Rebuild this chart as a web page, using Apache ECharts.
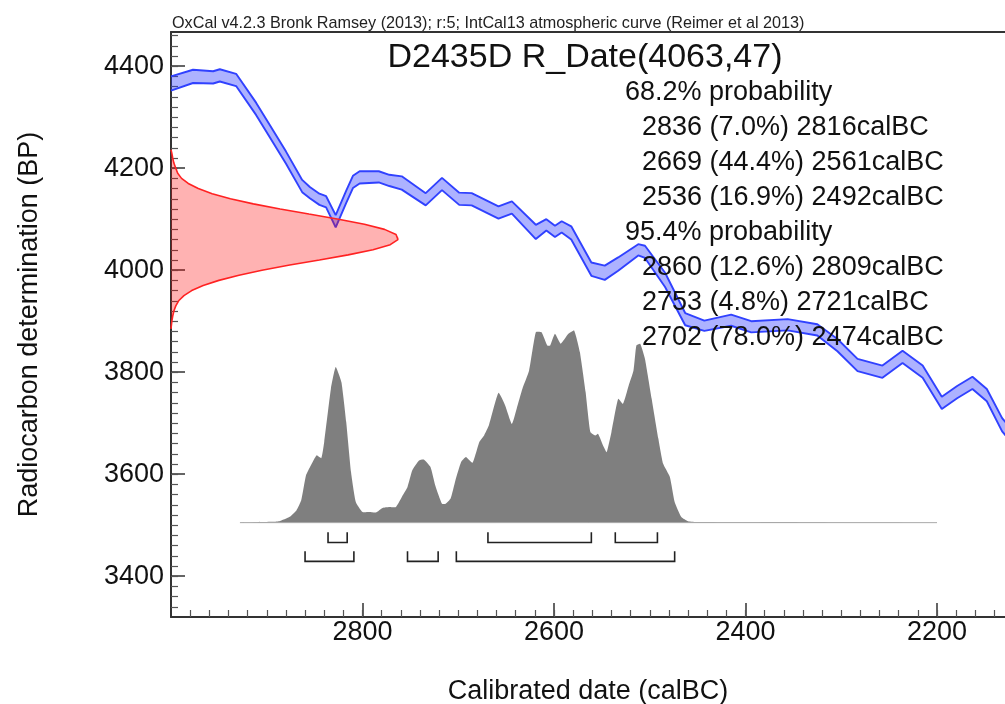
<!DOCTYPE html>
<html><head><meta charset="utf-8">
<script src="https://cdn.jsdelivr.net/npm/echarts@6/dist/echarts.min.js"></script>
<style>html,body{margin:0;padding:0;background:#fff}#c{width:1005px;height:704px}</style>
</head><body><div id="c"></div><script>
// ---------- data ----------
const headerText = 'OxCal v4.2.3 Bronk Ramsey (2013); r:5; IntCal13 atmospheric curve (Reimer et al 2013)';
const titleText = 'D2435D R_Date(4063,47)';
const xAxisTitle = 'Calibrated date (calBC)';
const yAxisTitle = 'Radiocarbon determination (BP)';
const xTickLabels = [2200, 2400, 2600, 2800];
const yTickLabels = [3400, 3600, 3800, 4000, 4200, 4400];

// IntCal13 calibration curve (cal BC, BP, 1 sigma)
const calYears = [3000,2977,2956,2949,2932,2911,2897,2880,2863,2855,2845,2838,2828,2817,2810,2803,2783,2772,2759,2734,2717,2699,2686,2658,2644,2619,2608,2599,2592,2582,2561,2547,2533,2512,2505,2484,2463,2443,2415,2394,2356,2325,2304,2283,2257,2236,2215,2195,2179,2163,2148,2132,2120];
const curveBP  = [4366,4380,4378,4382,4373,4316,4273,4221,4165,4152,4139,4134,4096,4144,4173,4182,4183,4176,4171,4139,4169,4140,4139,4113,4123,4075,4089,4076,4085,4073,4002,3995,4012,4040,4036,3981,3904,3891,3902,3889,3893,3883,3853,3814,3801,3830,3801,3740,3761,3779,3755,3697,3670];
const curveErr = [14,13,12,12,12,12,12,12,12,11,11,11,12,12,12,12,11,11,13,12,12,12,12,12,12,14,11,11,11,13,13,14,13,11,12,14,12,10,11,11,11,11,12,12,12,12,12,12,12,12,12,13,13];

// measured radiocarbon date shown on the y axis (BP level, extent in years)
const redBP    = [3885,3890,3900,3910,3920,3930,3940,3950,3960,3970,3980,3990,4000,4010,4020,4030,4040,4050,4060,4063,4070,4080,4090,4100,4110,4120,4130,4140,4150,4160,4170,4180,4190,4200,4210,4220,4230,4236];
const redWidth = [0,0.3,0.9,1.8,3,5,8,13.5,21.6,33.6,50,71,95,124,155,185,211,229,237,238,235,223,202,175,144,114,86,62,43,28.5,18,11,7,5,3,1.8,0.8,0];

// calibrated probability distribution (cal BC, relative probability)
const distYears = [2928,2910,2895,2887,2876,2869,2864,2859,2854,2848,2843,2840,2833,2828,2822,2817,2812,2807,2800,2793,2786,2779,2772,2765,2758,2753,2748,2741,2736,2729,2724,2717,2713,2708,2703,2697,2692,2685,2678,2673,2668,2658,2651,2644,2639,2633,2626,2619,2613,2607,2604,2599,2593,2585,2579,2573,2567,2562,2557,2554,2548,2545,2540,2533,2528,2522,2517,2514,2510,2505,2498,2491,2486,2479,2474,2467,2460,2450,2400,2360,2340,2300,2200];
const distProb  = [0,0.002,0.004,0.007,0.03,0.063,0.115,0.244,0.295,0.347,0.333,0.416,0.691,0.803,0.725,0.519,0.261,0.107,0.055,0.055,0.052,0.076,0.081,0.081,0.141,0.184,0.27,0.321,0.326,0.287,0.192,0.098,0.098,0.124,0.218,0.313,0.339,0.309,0.416,0.45,0.502,0.67,0.605,0.51,0.588,0.691,0.785,0.983,0.983,0.914,0.914,0.974,0.923,0.974,0.991,0.88,0.674,0.468,0.45,0.459,0.39,0.364,0.468,0.639,0.613,0.708,0.785,0.914,0.923,0.845,0.639,0.433,0.304,0.236,0.107,0.029,0.007,0.003,0.002,0.003,0.002,0.001,0];

// probability ranges
const range68 = [[2836,2816],[2669,2561],[2536,2492]];
const pct68   = ['7.0%','44.4%','16.9%'];
const range95 = [[2860,2809],[2753,2721],[2702,2474]];
const pct95   = ['12.6%','4.8%','78.0%'];

// ---------- layout / style constants ----------
const X_MIN = 2129, X_MAX = 3000, Y_MIN = 3320, Y_MAX = 4467;
const DIST_BASE = 3505, DIST_SCALE = 380;
const BR68 = [3466, 3486], BR95 = [3429, 3449];
const FONT = '"Liberation Sans", Arial, sans-serif';
const AX = '#333';

const minorX = []; for (let v = 2140; v <= 2980; v += 20) minorX.push(v);
const minorY = []; for (let v = 3340; v <= 4460; v += 20) minorY.push(v);

function clip(params) {
  const c = params.coordSys;
  return {type: 'rect', shape: {x: c.x, y: c.y, width: c.width, height: c.height}};
}

const upper = calYears.map((x, i) => [x, curveBP[i] + curveErr[i]]);
const lower = calYears.map((x, i) => [x, curveBP[i] - curveErr[i]]);
const redPts = redBP.map((b, i) => [X_MAX - redWidth[i], b]);
const distPts = distYears.map((x, i) => [x, DIST_BASE + distProb[i] * DIST_SCALE]);

const brackets = [];
range68.forEach(r => brackets.push([r[0], r[1], BR68[0], BR68[1]]));
range95.forEach(r => brackets.push([r[0], r[1], BR95[0], BR95[1]]));

const textLines = ['68.2% probability'];
range68.forEach((r, i) => textLines.push('  ' + r[0] + ' (' + pct68[i] + ') ' + r[1] + 'calBC'));
textLines.push('95.4% probability');
range95.forEach((r, i) => textLines.push('  ' + r[0] + ' (' + pct95[i] + ') ' + r[1] + 'calBC'));

const graphics = [
  {type: 'text', x: 172, y: 23.5, z: 100, style: {text: headerText, font: '16.2px ' + FONT, fill: '#222', verticalAlign: 'middle', align: 'left'}},
  {type: 'text', x: 585, y: 57.5, z: 100, style: {text: titleText, font: '34px ' + FONT, fill: '#111', verticalAlign: 'middle', align: 'center'}}
];
textLines.forEach((t, i) => {
  const indent = t.startsWith('  ');
  graphics.push({type: 'text', x: indent ? 642 : 625, y: 92.3 + 35.05 * i, z: 100,
    style: {text: t.trim(), font: '27px ' + FONT, fill: '#111', verticalAlign: 'middle', align: 'left'}});
});

const plain = v => String(v);
const baseX = {type: 'value', min: X_MIN, max: X_MAX, inverse: true, gridIndex: 0, splitLine: {show: false}};
const baseY = {type: 'value', min: Y_MIN, max: Y_MAX, gridIndex: 0, splitLine: {show: false}};

const option = {
  animation: false,
  backgroundColor: '#fff',
  grid: {left: 171, right: 0, top: 32, bottom: 87, containLabel: false, outerBoundsMode: 'none'},
  xAxis: [
    Object.assign({}, baseX, {
      position: 'bottom',
      name: xAxisTitle, nameLocation: 'middle', nameGap: 61,
      nameTextStyle: {fontFamily: FONT, fontSize: 27, color: '#111'},
      axisLine: {show: true, lineStyle: {color: AX, width: 2}},
      axisTick: {show: true, inside: true, length: 14, customValues: xTickLabels, lineStyle: {color: AX, width: 1.5}},
      axisLabel: {show: true, customValues: xTickLabels, formatter: plain, margin: 2, fontFamily: FONT, fontSize: 27, color: '#111'}
    }),
    Object.assign({}, baseX, {
      position: 'bottom',
      axisLine: {show: false},
      axisTick: {show: true, inside: true, length: 7, customValues: minorX, lineStyle: {color: '#555', width: 1.2}},
      axisLabel: {show: false}
    }),
    Object.assign({}, baseX, {
      position: 'top',
      axisLine: {show: true, lineStyle: {color: AX, width: 2}},
      axisTick: {show: false},
      axisLabel: {show: false}
    })
  ],
  yAxis: [
    Object.assign({}, baseY, {
      position: 'left',
      name: yAxisTitle, nameLocation: 'middle', nameGap: 128,
      nameTextStyle: {fontFamily: FONT, fontSize: 27, color: '#111'},
      axisLine: {show: true, lineStyle: {color: AX, width: 2}},
      axisTick: {show: true, inside: true, length: 14, customValues: yTickLabels, lineStyle: {color: AX, width: 1.5}},
      axisLabel: {show: true, customValues: yTickLabels, formatter: plain, margin: 7, fontFamily: FONT, fontSize: 27, color: '#111'}
    }),
    Object.assign({}, baseY, {
      position: 'left',
      axisLine: {show: false},
      axisTick: {show: true, inside: true, length: 7, customValues: minorY, lineStyle: {color: '#555', width: 1.2}},
      axisLabel: {show: false}
    })
  ],
  series: [
    { // calibration curve band
      type: 'custom', silent: true, data: [0], z: 2,
      renderItem: (params, api) => {
        const pts = upper.map(p => api.coord(p)).concat(lower.slice().reverse().map(p => api.coord(p)));
        return {type: 'group', clipPath: clip(params), children: [
          {type: 'polygon', shape: {points: pts}, style: {fill: 'rgba(40,52,255,0.38)'}}
        ]};
      }
    },
    {type: 'line', silent: true, data: upper, showSymbol: false, z: 3, lineStyle: {color: '#3041ff', width: 1.9}},
    {type: 'line', silent: true, data: lower, showSymbol: false, z: 3, lineStyle: {color: '#3041ff', width: 1.9}},
    { // calibrated distribution
      type: 'custom', silent: true, data: [0], z: 3,
      renderItem: (params, api) => {
        const pts = [api.coord([distYears[0], DIST_BASE])].concat(distPts.map(p => api.coord(p)),
          [api.coord([distYears[distYears.length - 1], DIST_BASE])]);
        return {type: 'polygon', shape: {points: pts, smooth: 0.15}, style: {fill: '#7f7f7f'}};
      }
    },
    {type: 'line', silent: true, data: [[distYears[0], DIST_BASE], [distYears[distYears.length - 1], DIST_BASE]],
      showSymbol: false, z: 3, lineStyle: {color: '#aaaaaa', width: 1}},
    { // radiocarbon date distribution
      type: 'custom', silent: true, data: [0], z: 4,
      renderItem: (params, api) => {
        const pts = [api.coord([X_MAX, redBP[0]])].concat(redPts.map(p => api.coord(p)),
          [api.coord([X_MAX, redBP[redBP.length - 1]])]);
        return {type: 'group', clipPath: clip(params), children: [
          {type: 'polygon', shape: {points: pts}, style: {fill: 'rgba(255,0,0,0.3)'}}
        ]};
      }
    },
    {type: 'line', silent: true, data: redPts, showSymbol: false, z: 5, lineStyle: {color: '#ff2222', width: 1.6}},
    { // range brackets
      type: 'custom', silent: true, data: brackets, z: 5,
      renderItem: (params, api) => {
        const a = api.value(0), b = api.value(1), lo = api.value(2), hi = api.value(3);
        const pts = [api.coord([a, hi]), api.coord([a, lo]), api.coord([b, lo]), api.coord([b, hi])];
        return {type: 'polyline', shape: {points: pts}, style: {stroke: '#222', lineWidth: 1.6, fill: null}};
      }
    }
  ],
  graphic: graphics
};

const chart = echarts.init(document.getElementById('c'), null, {renderer: 'canvas'});
chart.setOption(option);
</script></body></html>
